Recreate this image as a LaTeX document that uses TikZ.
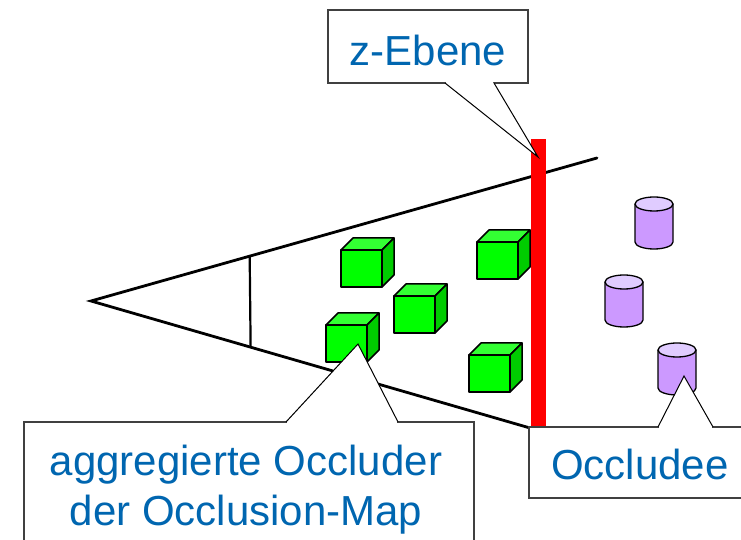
\documentclass[tikz,border=0pt]{standalone}
\usepackage{fontspec}
\setmainfont{Liberation Sans}
\definecolor{labelblue}{RGB}{0,102,176}
\definecolor{cubefront}{RGB}{0,255,0}
\definecolor{cubetop}{RGB}{51,255,51}
\definecolor{cubeside}{RGB}{0,204,0}
\definecolor{cylbody}{RGB}{204,153,255}
\definecolor{cyltop}{RGB}{224,204,255}
\definecolor{boxedge}{RGB}{64,64,64}
\tikzset{
  frustum/.style={line width=2.8pt, black},
  callout/.style={draw=boxedge, line width=1.4pt, fill=white, line join=miter},
  calltail/.style={draw=black, line width=1pt},
  labeltext/.style={text=labelblue, font=\fontsize{42}{50}\selectfont, align=center, inner sep=0pt},
  cubeedge/.style={draw=black, line width=1.5pt, line join=round},
  cyledge/.style={draw=black, line width=1.3pt},
}
% green cube: front-lower-left corner and a name
\newcommand{\greencube}[3]{%
  \begin{scope}[shift={(#1,#2)}]
    \coordinate (#3) at (0,0);
    \filldraw[cubeedge, fill=cubefront] (0,0) rectangle (41,37);
    \filldraw[cubeedge, fill=cubetop] (0,37) -- (12,49) -- (53,49) -- (41,37) -- cycle;
    \filldraw[cubeedge, fill=cubeside] (41,0) -- (53,12) -- (53,49) -- (41,37) -- cycle;
  \end{scope}}
% purple cylinder: centre of top ellipse, height, name
\newcommand{\purplecyl}[4]{%
  \begin{scope}[shift={(#1,#2)}]
    \coordinate (#4) at (0,0);
    \filldraw[cyledge, fill=cylbody] (-19,0) -- (-19,-#3) arc[start angle=180, end angle=360, x radius=19, y radius=7] -- (19,0);
    \filldraw[cyledge, fill=cyltop] (0,0) ellipse[x radius=19, y radius=7];
  \end{scope}}
\begin{document}
\begin{tikzpicture}[x=1pt,y=1pt]
\useasboundingbox (0,0) rectangle (741,540);
\clip (0,0) rectangle (741,540);
% view frustum (y measured upward, origin bottom-left)
\coordinate (apex) at (91,239);
\coordinate (farup) at (597,382);
\coordinate (fardown) at (530,112);
\draw[frustum, line cap=round] (farup) -- (apex) -- (fardown);
\path (apex) -- (farup) coordinate[pos=0.3136] (nu);
\path (apex) -- (fardown) coordinate[pos=0.3636] (nd);
\draw[line width=2.2pt] (nu) -- (nd);
% occluders
\greencube{341}{253}{c1}
\greencube{477}{261}{c2}
\greencube{394}{207}{c3}
\greencube{326}{178}{c4}
\greencube{469}{148}{c5}
% occludees
\purplecyl{654}{336}{38}{o1}
\purplecyl{624}{258}{38}{o2}
\purplecyl{677}{190}{38}{o3}
% z plane
\fill[red] (531,112) rectangle (546,401);
% callouts
\coordinate (ztip) at (538,383);
\filldraw[callout] (328,457) rectangle (528,530);
\fill[white] (445,457) -- (ztip) -- (494,457) -- cycle;
\draw[white, line width=1.6pt] (446,457) -- (493,457);
\draw[calltail] (445,457) -- (ztip) -- (494,457);
\node[labeltext] (zlabel) at (428,490) {z-Ebene};

\coordinate (otip) at (358,196);
\filldraw[callout] (24,118) rectangle (474,-20);
\fill[white] (286,118) -- (otip) -- (398,118) -- cycle;
\draw[white, line width=1.6pt] (287,118) -- (397,118);
\draw[calltail] (286,118) -- (otip) -- (398,118);
\node[labeltext] (olabel) at (246,50.5) {aggregierte Occluder\\ der Occlusion-Map};

\coordinate (ctip) at (684,164);
\filldraw[callout] (529,113) rectangle (760,42);
\fill[white] (658,113) -- (ctip) -- (713,113) -- cycle;
\draw[white, line width=1.6pt] (659,113) -- (712,113);
\draw[calltail] (658,113) -- (ctip) -- (713,113);
\node[labeltext] (clabel) at (640,76) {Occludee};
\end{tikzpicture}
\end{document}
